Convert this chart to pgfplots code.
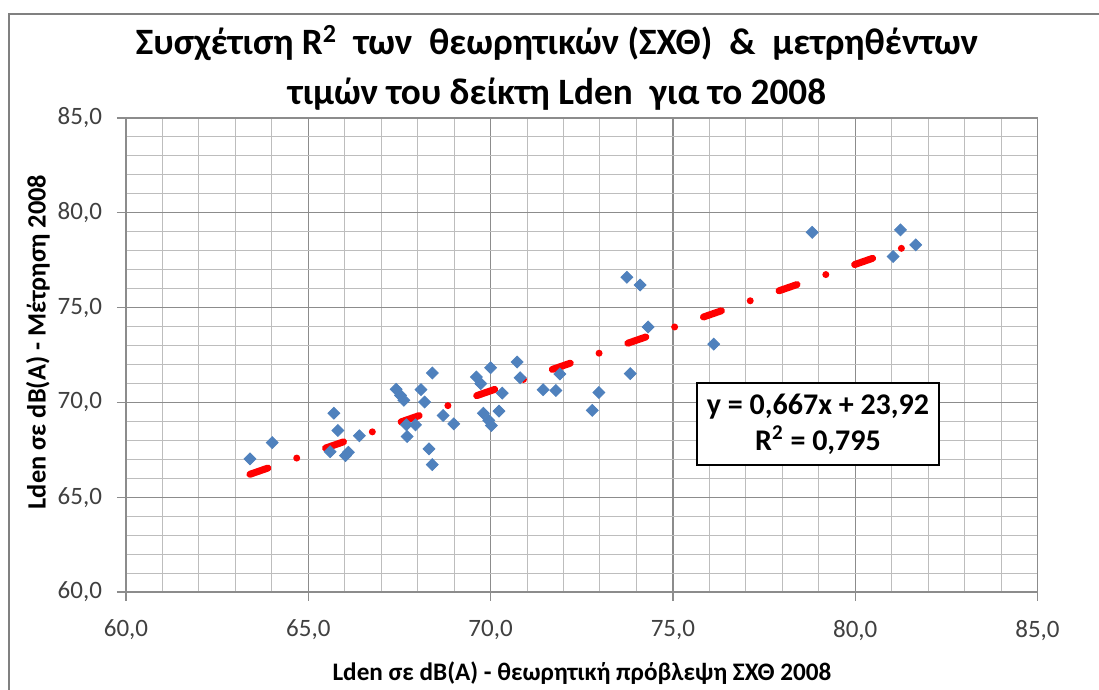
\documentclass[border=0pt]{standalone}
\usepackage{fontspec}
\setmainfont{Carlito}
\usepackage{pgfplots}
\pgfplotsset{compat=1.18}
\definecolor{mblue}{HTML}{4F81BD}
\definecolor{gridmaj}{HTML}{8C8C8C}
\definecolor{gridmin}{HTML}{BDBDBD}
\definecolor{tickc}{HTML}{404040}
\begin{document}
\begin{tikzpicture}
\useasboundingbox (0,0) rectangle (549.5pt,345pt);
\fill[white] (0,0) rectangle (549.5pt,345pt);
\draw[gray, line width=1pt] (4.5pt,0) -- (4.5pt,338pt) -- (549.5pt,338pt);
\begin{axis}[
  at={(63pt,49pt)}, anchor=south west,
  scale only axis, width=455.75pt, height=237pt,
  xmin=60, xmax=85, ymin=60, ymax=85,
  xtick={60,65,...,85}, ytick={60,65,...,85},
  minor xtick={61,62,63,64,66,67,68,69,71,72,73,74,76,77,78,79,81,82,83,84},
  minor ytick={61,62,63,64,66,67,68,69,71,72,73,74,76,77,78,79,81,82,83,84},
  grid=both,
  major grid style={gridmaj, line width=0.6pt},
  minor grid style={gridmin, line width=0.5pt},
  axis line style={gridmaj, line width=0.7pt},
  tick align=outside, major tick length=4.5pt, minor tick length=0pt,
  tick style={gridmaj, line width=0.6pt},
  xtick pos=bottom, ytick pos=left,
  /pgf/number format/.cd, use comma, fixed, fixed zerofill, precision=1, assume math mode=true,
  /pgfplots/.cd,
  ticklabel style={font=\fontsize{12.5}{14}\selectfont, text=tickc},
  xticklabel style={yshift=-6pt},
  yticklabel style={xshift=-4pt},
  clip=false,
]
\addplot[only marks, mark=square*, mark size=2.1pt, mark options={rotate=45, fill=mblue, draw=mblue}] coordinates {
(63.40,67.02) (64.01,67.88) (65.60,67.40) (65.70,69.43) (65.81,68.52)
(66.02,67.19) (66.10,67.37) (66.40,68.24) (67.41,70.69) (67.53,70.37)
(67.62,70.11) (67.69,68.82) (67.71,68.20) (67.94,68.82) (68.09,70.67)
(68.19,70.02) (68.31,67.55) (68.40,71.55) (68.40,66.72) (68.70,69.31)
(68.99,68.87) (69.61,71.34) (69.73,70.99) (69.80,69.43) (69.95,69.05)
(70.00,71.83) (70.02,68.78) (70.23,69.54) (70.32,70.49) (70.73,72.13)
(70.81,71.30) (71.44,70.67) (71.79,70.63) (71.90,71.50) (72.79,69.58)
(72.97,70.52) (73.74,76.60) (73.83,71.52) (74.10,76.19) (74.32,73.98)
(76.12,73.07) (78.82,78.97) (81.04,77.69) (81.24,79.10) (81.66,78.31)
};
\addplot[no marks, red, line width=3.5pt, line cap=round, dash pattern=on 9.5pt off 15.25pt on 0pt off 15.25pt] coordinates {
(63.40,66.208) (81.66,78.387)
};
\node[draw=black, line width=0.75pt, fill=white, minimum width=121pt, minimum height=41pt, align=center, inner sep=2pt,
  font=\fontsize{15}{18}\selectfont\bfseries] at (axis cs:78.98,68.87) {y = 0,667x + 23,92\\R\textsuperscript{2} = 0,795};
\end{axis}
\node[font=\fontsize{18.6}{25}\selectfont\bfseries, align=center] at (278.5pt,311pt) {Συσχέτιση R\textsuperscript{2}\ \ των\ \ θεωρητικών (ΣΧΘ)\ \ \&\ \ μετρηθέντων\\τιμών του δείκτη Lden\ \ για το 2008};
\node[font=\fontsize{12.6}{14}\selectfont\bfseries] at (291pt,8.5pt) {Lden σε dB(A) - θεωρητική πρόβλεψη ΣΧΘ 2008};
\node[font=\fontsize{13.2}{15}\selectfont\bfseries, rotate=90] at (19pt,174pt) {Lden σε dB(A) - Μέτρηση 2008};
\end{tikzpicture}
\end{document}
